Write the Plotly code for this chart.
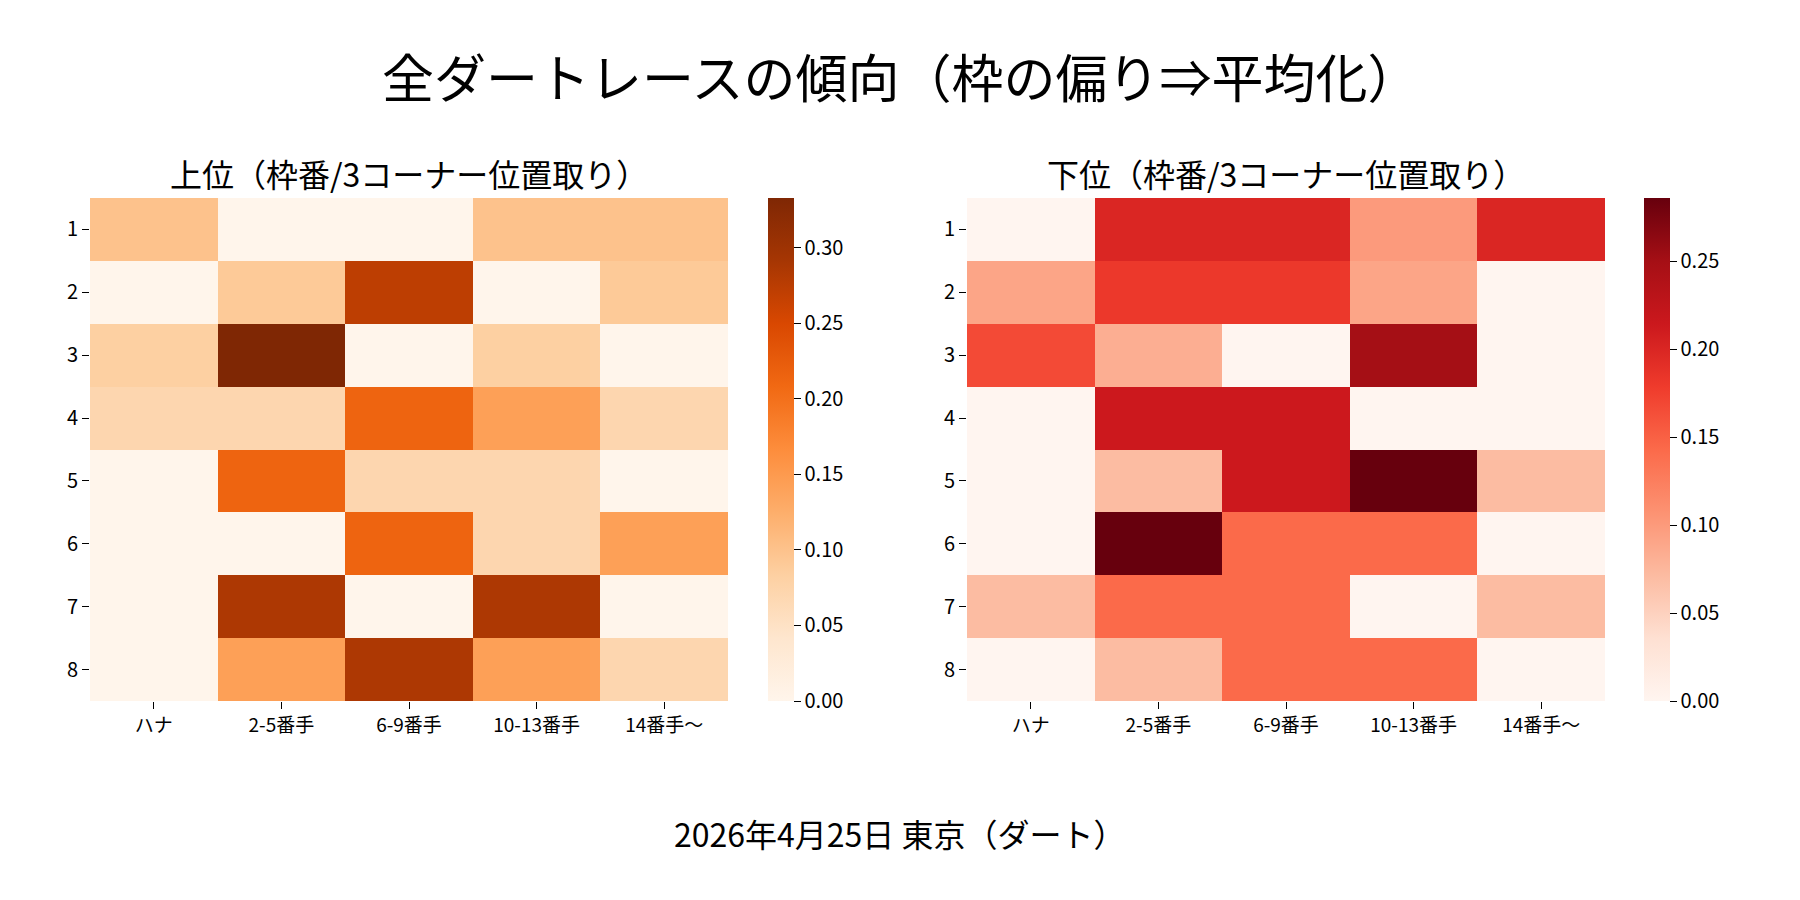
import plotly.graph_objects as go

# ---- data ----
positions = ["ハナ", "2-5番手", "6-9番手", "10-13番手", "14番手〜"]
gates = ["1", "2", "3", "4", "5", "6", "7", "8"]

upper = [
    [0.100, 0.000, 0.000, 0.100, 0.100],
    [0.000, 0.091, 0.273, 0.000, 0.091],
    [0.083, 0.333, 0.000, 0.083, 0.000],
    [0.071, 0.071, 0.214, 0.143, 0.071],
    [0.000, 0.214, 0.071, 0.071, 0.000],
    [0.000, 0.000, 0.214, 0.071, 0.143],
    [0.000, 0.286, 0.000, 0.286, 0.000],
    [0.000, 0.143, 0.286, 0.143, 0.071],
]

lower = [
    [0.000, 0.200, 0.200, 0.100, 0.200],
    [0.091, 0.182, 0.182, 0.091, 0.000],
    [0.167, 0.083, 0.000, 0.250, 0.000],
    [0.000, 0.214, 0.214, 0.000, 0.000],
    [0.000, 0.071, 0.214, 0.286, 0.071],
    [0.000, 0.286, 0.143, 0.143, 0.000],
    [0.071, 0.143, 0.143, 0.000, 0.071],
    [0.000, 0.071, 0.143, 0.143, 0.000],
]

upper_ticks = [0.00, 0.05, 0.10, 0.15, 0.20, 0.25, 0.30]
lower_ticks = [0.00, 0.05, 0.10, 0.15, 0.20, 0.25]

main_title = "全ダートレースの傾向（枠の偏り⇒平均化）"
upper_title = "上位（枠番/3コーナー位置取り）"
lower_title = "下位（枠番/3コーナー位置取り）"
footer = "2026年4月25日 東京（ダート）"

# ---- layout geometry (pixels on 1800x900 canvas) ----
W, H = 1800, 900
FONT = "Noto Sans CJK JP"
top_px, bot_px = 198, 701
panels = [
    dict(x0=90, x1=728, cb=768, z=upper, cs="Oranges", ticks=upper_ticks, title=upper_title),
    dict(x0=967, x1=1605, cb=1644, z=lower, cs="Reds", ticks=lower_ticks, title=lower_title),
]

fig = go.Figure()
y_dom = [1 - bot_px / H, 1 - top_px / H]
for i, p in enumerate(panels, start=1):
    zmax = max(max(r) for r in p["z"])
    fig.add_trace(go.Heatmap(
        z=p["z"], x=positions, y=gates,
        colorscale=p["cs"], zmin=0, zmax=zmax,
        xaxis=f"x{i if i > 1 else ''}", yaxis=f"y{i if i > 1 else ''}",
        colorbar=dict(
            x=p["cb"] / W, xanchor="left", xref="paper", xpad=0,
            y=(y_dom[0] + y_dom[1]) / 2, yanchor="middle", ypad=0,
            len=(bot_px - top_px) / H, lenmode="fraction",
            thickness=26, thicknessmode="pixels",
            outlinewidth=0,
            tickvals=p["ticks"], ticktext=[f"{t:.2f}" for t in p["ticks"]],
            ticks="outside", ticklen=7, tickwidth=1.3, tickcolor="black",
            tickfont=dict(family=FONT, size=20, color="black"),
        ),
        hovertemplate="%{y} / %{x}: %{z:.3f}<extra></extra>",
    ))
    ax = dict(
        domain=[p["x0"] / W, p["x1"] / W],
        showgrid=False, zeroline=False, showline=False,
        ticks="outside", ticklen=7, tickwidth=1.3, tickcolor="black",
        tickfont=dict(family=FONT, size=19, color="black"),
        anchor=f"y{i if i > 1 else ''}",
    )
    ay = dict(
        domain=y_dom, autorange="reversed",
        showgrid=False, zeroline=False, showline=False,
        ticks="outside", ticklen=7, tickwidth=1.3, tickcolor="black",
        tickfont=dict(family=FONT, size=20, color="black"),
        anchor=f"x{i if i > 1 else ''}",
    )
    fig.layout[f"xaxis{i if i > 1 else ''}"] = ax
    fig.layout[f"yaxis{i if i > 1 else ''}"] = ay
    fig.add_annotation(
        text=p["title"], x=(p["x0"] + p["x1"]) / 2 / W, y=1 - 173 / H,
        xref="paper", yref="paper", xanchor="center", yanchor="middle",
        showarrow=False, font=dict(family=FONT, size=32, color="black"),
    )

fig.add_annotation(
    text=main_title, x=0.5, y=1 - 75 / H, xref="paper", yref="paper",
    xanchor="center", yanchor="middle", showarrow=False,
    font=dict(family=FONT, size=52, color="black"),
)
fig.add_annotation(
    text=footer, x=0.5, y=1 - 833 / H, xref="paper", yref="paper",
    xanchor="center", yanchor="middle", showarrow=False,
    font=dict(family=FONT, size=32, color="black"),
)

fig.update_layout(
    width=W, height=H,
    margin=dict(l=0, r=0, t=0, b=0),
    paper_bgcolor="white", plot_bgcolor="white",
    showlegend=False,
)

fig.write_html(
    "out.html",
    config={"displayModeBar": False},
    post_script="document.body.style.margin='0px';",
)
